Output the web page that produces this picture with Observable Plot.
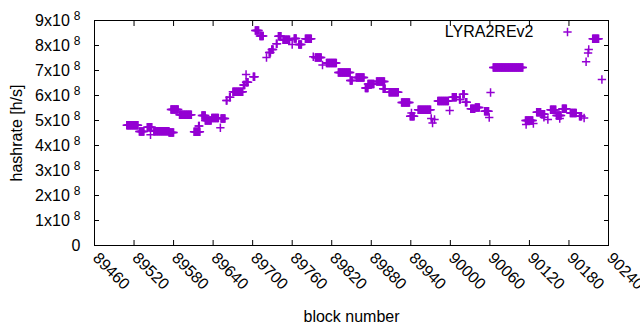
<!DOCTYPE html>
<html><head><meta charset="utf-8">
<script src="https://cdn.jsdelivr.net/npm/d3@7"></script>
<script src="https://cdn.jsdelivr.net/npm/@observablehq/plot@0.6"></script>
<style>body{margin:0;background:#fff}</style>
</head><body><div id="chart"></div>
<script>
// ---- data ----
const seriesName = "LYRA2REv2";
const xLabel = "block number";
const yLabel = "hashrate [h/s]";
// runs of consecutive blocks sharing the same hashrate (units of 1e8 h/s)
const runStart = [89509,89528,89540,89545,89550,89573,89576,89589,89611,89618,89623,89628,89638,89651,89652,89660,89665,89670,89686,89690,89690,89701,89704,89711,89721,89725,89729,89736,89739,89746,89760,89763,89770,89780,89792,89795,89806,89812,89830,89848,89857,89871,89875,89888,89898,89907,89926,89939,89941,89951,89971,89973,89976,89981,89999,90003,90014,90019,90023,90031,90038,90052,90059,90061,90065,90114,90115,90126,90131,90138,90142,90148,90152,90161,90166,90170,90182,90196,90203,90206,90209,90210,90216,90230];
const runEnd   = [89526,89535,89547,89545,89573,89580,89587,89607,89620,89619,89628,89637,89648,89651,89658,89661,89666,89685,89688,89690,89693,89703,89709,89716,89721,89727,89731,89737,89743,89756,89760,89766,89774,89789,89792,89804,89806,89827,89848,89851,89869,89875,89884,89900,89901,89921,89938,89945,89941,89970,89971,89973,89976,89997,89999,90009,90015,90021,90025,90037,90044,90058,90059,90061,90110,90125,90115,90126,90137,90143,90142,90148,90160,90168,90166,90176,90191,90199,90203,90206,90209,90210,90225,90230];
const runRate  = [4.81,4.56,4.73,4.43,4.57,4.52,5.44,5.23,4.55,4.78,5.2,5.0,5.1,4.71,5.08,5.8,5.93,6.15,6.42,6.84,6.53,6.75,8.6,8.38,7.52,7.72,7.84,8.07,8.37,8.23,8.04,8.28,8.04,8.27,7.55,7.52,7.22,7.3,6.92,6.6,6.72,6.3,6.46,6.56,6.27,6.13,5.72,5.17,5.3,5.43,5.08,4.9,5.04,5.78,5.4,5.93,5.84,6.05,5.73,5.47,5.52,5.37,5.12,6.12,7.12,5.0,4.84,4.88,5.33,5.25,5.13,5.04,5.43,5.2,5.08,5.47,5.3,5.17,5.1,7.35,7.7,7.84,8.27,6.64];
const xTicks = [89460,89520,89580,89640,89700,89760,89820,89880,89940,90000,90060,90120,90180,90240];
const yTicks = [0,1,2,3,4,5,6,7,8,9]; // x 1e8

// one point per block
const points = [];
runStart.forEach((s, i) => {
  for (let b = s; b <= runEnd[i]; b++) points.push({block: b, rate: runRate[i] * 1e8});
});

const color = "#9400d3";
const yT = yTicks.map(v => v * 1e8);
const markR = 2.8;

const chart = Plot.plot({
  width: 640, height: 330,
  marginLeft: 94, marginRight: 32, marginTop: 20, marginBottom: 85,
  style: {fontFamily: "'Liberation Sans', Arial, sans-serif", fontSize: "16px", color: "black", background: "white"},
  x: {domain: [89460, 90240]},
  y: {domain: [0, 9e8]},
  marks: [
    Plot.dot(points, {x: "block", y: "rate", symbol: "plus", r: markR, stroke: color, fill: "none", strokeWidth: 1.5}),
    Plot.frame({stroke: "black", strokeWidth: 1}),
    // inward ticks on all four sides
    Plot.axisX(xTicks, {anchor: "bottom", tickSize: 5, dy: -5, fill: "none", label: null}),
    Plot.axisX(xTicks, {anchor: "top", tickSize: 5, dy: 5, fill: "none", label: null}),
    Plot.axisY(yT, {anchor: "left", tickSize: 5, dx: 5, fill: "none", label: null}),
    Plot.axisY(yT, {anchor: "right", tickSize: 5, dx: -5, fill: "none", label: null}),
    // tick labels
    Plot.axisX(xTicks, {anchor: "bottom", tickSize: 0, tickPadding: 10, dx: 1, tickRotate: 45, tickFormat: d => String(d), label: null}),
    Plot.axisY(yT, {anchor: "left", tickSize: 0, tickPadding: 14, tickFormat: d => d === 0 ? "0" : `${d / 1e8}x10^8`, label: null}),
    // axis titles
    Plot.text([yLabel], {frameAnchor: "left", dx: -78, rotate: -90, textAnchor: "middle", lineAnchor: "middle"}),
    Plot.text([xLabel], {frameAnchor: "bottom", dy: 71, textAnchor: "middle", lineAnchor: "middle"}),
    // legend
    Plot.text([seriesName], {frameAnchor: "top-right", dx: -75, dy: 11, textAnchor: "end", lineAnchor: "middle"}),
    Plot.dot([seriesName], {frameAnchor: "top-right", dx: -41, dy: 11.5, symbol: "plus", r: markR, stroke: color, fill: "none", strokeWidth: 1.5})
  ]
});

// superscript exponent in y tick labels
d3.select(chart).selectAll('g[aria-label="y-axis tick label"] text').each(function () {
  const parts = this.textContent.split("^");
  if (parts.length === 2) {
    this.textContent = parts[0];
    d3.select(this).append("tspan").attr("font-size", "12px").attr("dx", 4).attr("dy", "-0.5em").text(parts[1]);
  }
});
document.getElementById("chart").appendChild(chart);
</script>
</body></html>
